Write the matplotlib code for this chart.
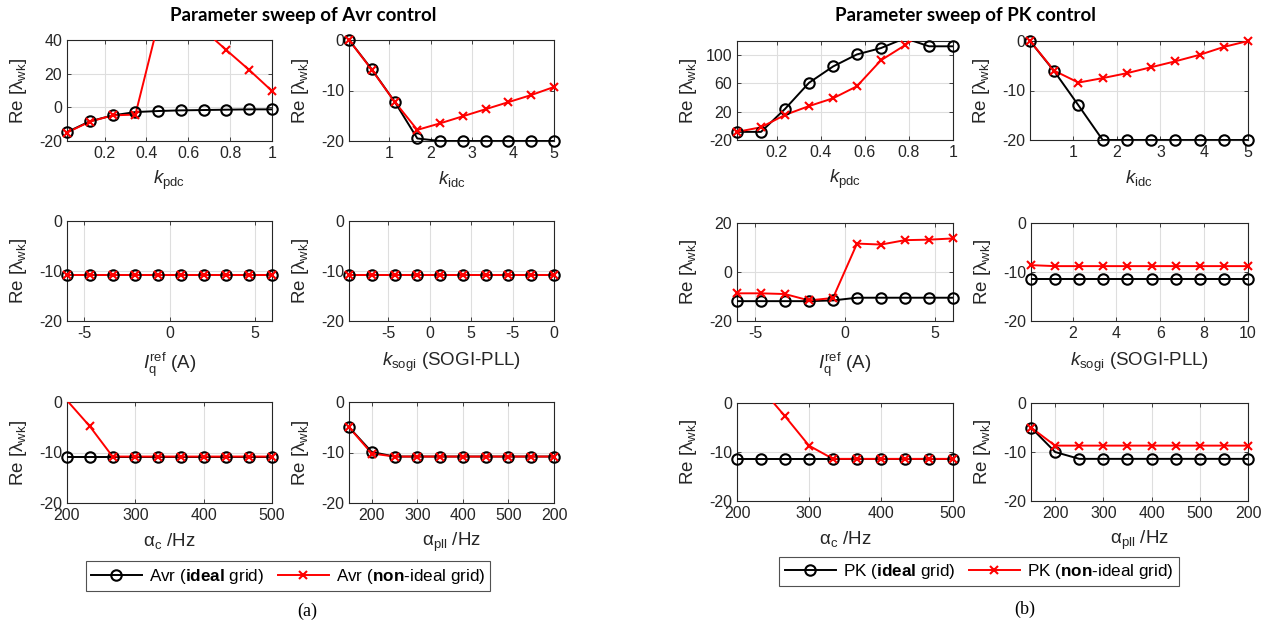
import numpy as np
import matplotlib
matplotlib.use("Agg")
import matplotlib.pyplot as plt
from matplotlib.lines import Line2D

plt.rcParams['font.family'] = ['Liberation Sans', 'DejaVu Sans']
plt.rcParams['mathtext.fontset'] = 'custom'
plt.rcParams['mathtext.rm'] = 'Liberation Sans'
plt.rcParams['mathtext.it'] = 'Liberation Sans:italic'
plt.rcParams['mathtext.bf'] = 'Liberation Sans:bold'
plt.rcParams['axes.unicode_minus'] = False

# ---------------- data ----------------
x_kpdc = [0.02, 0.129, 0.238, 0.347, 0.456, 0.564, 0.673, 0.782, 0.891, 1.0]
x_kidc = [0.02, 0.573, 1.127, 1.68, 2.233, 2.787, 3.34, 3.893, 4.447, 5.0]
x_iq = [-6.0, -4.667, -3.333, -2.0, -0.667, 0.667, 2.0, 3.333, 4.667, 6.0]
x_ksogi = [0.1, 1.2, 2.3, 3.4, 4.5, 5.6, 6.7, 7.8, 8.9, 10.0]
x_ac = [200, 233.3, 266.7, 300, 333.3, 366.7, 400, 433.3, 466.7, 500]
x_apll = [150, 200, 250, 300, 350, 400, 450, 500, 550, 600]

avr_kpdc_ideal = [-14.7, -8.3, -4.8, -2.8, -2.2, -1.8, -1.6, -1.4, -1.2, -1.2]
avr_kpdc_non = [-15.0, -8.5, -4.8, -4.3, 50.0, 62.0, 46.0, 34.0, 22.2, 9.7]
avr_kidc_ideal = [0.0, -5.8, -12.2, -19.5, -20.0, -20.0, -20.0, -20.0, -20.0, -20.0]
avr_kidc_non = [0.0, -5.9, -12.2, -17.8, -16.5, -15.1, -13.7, -12.3, -10.9, -9.3]
avr_iq_ideal = [-10.8, -10.8, -10.8, -10.8, -10.8, -10.8, -10.8, -10.8, -10.8, -10.8]
avr_iq_non = [-10.8, -10.8, -10.8, -10.8, -10.8, -10.8, -10.8, -10.8, -10.8, -10.8]
avr_ksogi_ideal = [-10.8, -10.8, -10.8, -10.8, -10.8, -10.8, -10.8, -10.8, -10.8, -10.8]
avr_ksogi_non = [-10.8, -10.8, -10.8, -10.8, -10.8, -10.8, -10.8, -10.8, -10.8, -10.8]
avr_ac_ideal = [-10.8, -10.8, -10.8, -10.8, -10.8, -10.8, -10.8, -10.8, -10.8, -10.8]
avr_ac_non = [0.3, -4.8, -10.8, -10.8, -10.8, -10.8, -10.8, -10.8, -10.8, -10.8]
avr_apll_ideal = [-5.0, -9.9, -10.8, -10.8, -10.8, -10.8, -10.8, -10.8, -10.8, -10.8]
avr_apll_non = [-5.0, -10.2, -10.8, -10.8, -10.8, -10.8, -10.8, -10.8, -10.8, -10.8]

pk_kpdc_ideal = [-8.5, -8.5, 24.0, 61.0, 84.0, 101.0, 110.0, 124.0, 112.5, 112.5]
pk_kpdc_non = [-8.5, -2.0, 15.5, 28.0, 39.0, 56.0, 92.7, 114.0, 138.0, 150.0]
pk_kidc_ideal = [0.0, -6.1, -13.0, -20.0, -20.0, -20.0, -20.0, -20.0, -20.0, -20.0]
pk_kidc_non = [0.0, -6.0, -8.4, -7.5, -6.5, -5.3, -4.1, -2.8, -1.2, 0.0]
pk_iq_ideal = [-11.9, -11.9, -11.9, -11.9, -11.6, -10.5, -10.5, -10.5, -10.5, -10.5]
pk_iq_non = [-8.7, -8.7, -9.0, -11.6, -10.6, 11.6, 11.2, 13.0, 13.2, 13.7]
pk_ksogi_ideal = [-11.4, -11.4, -11.4, -11.4, -11.4, -11.4, -11.4, -11.4, -11.4, -11.4]
pk_ksogi_non = [-8.6, -8.8, -8.8, -8.8, -8.8, -8.8, -8.8, -8.8, -8.8, -8.8]
pk_ac_ideal = [-11.4, -11.4, -11.4, -11.4, -11.4, -11.4, -11.4, -11.4, -11.4, -11.4]
pk_ac_non = [10.0, 3.0, -2.7, -8.7, -11.4, -11.4, -11.4, -11.4, -11.4, -11.4]
pk_apll_ideal = [-5.0, -10.0, -11.4, -11.4, -11.4, -11.4, -11.4, -11.4, -11.4, -11.4]
pk_apll_non = [-5.0, -8.7, -8.7, -8.7, -8.7, -8.7, -8.7, -8.7, -8.7, -8.7]

# tick definitions
kpdc_ticks = [0.2, 0.4, 0.6, 0.8, 1.0]
kpdc_labels = ['0.2', '0.4', '0.6', '0.8', '1']
kidc_ticks = [1, 2, 3, 4, 5]
iq_ticks = [-5, 0, 5]
ksogi_ticks = [2, 4, 6, 8, 10]
ksogi_labels_avr = ['-5', '0', '5', '-5', '0']
ksogi_labels_pk = ['2', '4', '6', '8', '10']
ac_ticks = [200, 300, 400, 500]
apll_ticks = [200, 300, 400, 500, 600]
apll_labels = ['200', '300', '400', '500', '200']

# ---------------- figure ----------------
W, H = 1268, 624
fig = plt.figure(figsize=(W / 100, H / 100), dpi=100)
TXT = '#262626'
YLAB = r'Re [$\mathrm{\lambda}_{\mathrm{wk}}$]'


def add_ax(x0, x1, y0, y1):
    return fig.add_axes([x0 / W, 1 - y1 / H, (x1 - x0) / W, (y1 - y0) / H])


def draw(ax, x, y_ideal, y_non, xlim, ylim, xticks, xlabels, yticks, xlabel, xlab_off):
    x = np.asarray(x, float)
    for y, c, m, ms, mfc in [(y_ideal, 'k', 'o', 7.5, 'none'), (y_non, 'r', 'x', 5.5, 'r')]:
        y = np.asarray(y, float)
        ax.plot(x, y, color=c, lw=1.4, zorder=3)
        inside = (y >= ylim[0] - 1e-9) & (y <= ylim[1] + 1e-9)
        ax.plot(x[inside], y[inside], ls='none', marker=m, ms=ms, mew=1.5,
                mec=c, mfc=mfc, clip_on=False, zorder=4)
    ax.set_xlim(xlim)
    ax.set_ylim(ylim)
    ax.set_xticks(xticks)
    ax.set_xticklabels(xlabels)
    ax.set_yticks(yticks)
    ax.grid(True, color='#dedede', lw=0.8)
    ax.set_axisbelow(True)
    ax.tick_params(direction='in', length=3, width=0.6, top=True, right=True,
                   labelsize=11.5, colors=TXT, pad=3.5)
    for s in ax.spines.values():
        s.set_color('#262626')
        s.set_linewidth(0.8)
    ax.set_xlabel(xlabel, fontsize=13.5, color=TXT)
    ax.set_ylabel(YLAB, fontsize=13.5, color=TXT)
    h = ax.get_position().height * H
    w = ax.get_position().width * W
    ax.xaxis.set_label_coords(0.5, -xlab_off / h)
    ax.yaxis.set_label_coords(-38 / w, 0.5)


lab_kpdc = r'$k_{\mathrm{pdc}}$'
lab_kidc = r'$k_{\mathrm{idc}}$'
lab_iq = r'$I_{\mathrm{q}}^{\mathrm{ref}}$ (A)'
lab_ksogi = r'$k_{\mathrm{sogi}}$ (SOGI-PLL)'
lab_ac = r'$\mathrm{\alpha}_{\mathrm{c}}$ /Hz'
lab_apll = r'$\mathrm{\alpha}_{\mathrm{pll}}$ /Hz'

# (a) Avr
ax = add_ax(67, 272, 40, 141)
draw(ax, x_kpdc, avr_kpdc_ideal, avr_kpdc_non, (0.02, 1), (-20, 40), kpdc_ticks, kpdc_labels,
     [-20, 0, 20, 40], lab_kpdc, 28)
ax = add_ax(349, 554, 40, 141)
draw(ax, x_kidc, avr_kidc_ideal, avr_kidc_non, (0.02, 5), (-20, 0), kidc_ticks,
     [str(t) for t in kidc_ticks], [-20, -10, 0], lab_kidc, 28)
ax = add_ax(67, 272, 221, 321)
draw(ax, x_iq, avr_iq_ideal, avr_iq_non, (-6, 6), (-20, 0), iq_ticks,
     [str(t) for t in iq_ticks], [-20, -10, 0], lab_iq, 30)
ax = add_ax(349, 554, 221, 321)
draw(ax, x_ksogi, avr_ksogi_ideal, avr_ksogi_non, (0.1, 10), (-20, 0), ksogi_ticks,
     ksogi_labels_avr, [-20, -10, 0], lab_ksogi, 30)
ax = add_ax(67, 272, 402, 503)
draw(ax, x_ac, avr_ac_ideal, avr_ac_non, (200, 500), (-20, 0), ac_ticks,
     [str(t) for t in ac_ticks], [-20, -10, 0], lab_ac, 28)
ax = add_ax(349, 554, 402, 503)
draw(ax, x_apll, avr_apll_ideal, avr_apll_non, (150, 600), (-20, 0), apll_ticks,
     apll_labels, [-20, -10, 0], lab_apll, 28)

# (b) PK
ax = add_ax(737, 953, 41, 140)
draw(ax, x_kpdc, pk_kpdc_ideal, pk_kpdc_non, (0.02, 1), (-20, 120), kpdc_ticks, kpdc_labels,
     [-20, 20, 60, 100], lab_kpdc, 28)
ax = add_ax(1030, 1248, 41, 140)
draw(ax, x_kidc, pk_kidc_ideal, pk_kidc_non, (0.02, 5), (-20, 0), kidc_ticks,
     [str(t) for t in kidc_ticks], [-20, -10, 0], lab_kidc, 28)
ax = add_ax(737, 953, 223, 321)
draw(ax, x_iq, pk_iq_ideal, pk_iq_non, (-6, 6), (-20, 20), iq_ticks,
     [str(t) for t in iq_ticks], [-20, 0, 20], lab_iq, 30)
ax = add_ax(1031, 1248, 223, 321)
draw(ax, x_ksogi, pk_ksogi_ideal, pk_ksogi_non, (0.1, 10), (-20, 0), ksogi_ticks,
     ksogi_labels_pk, [-20, -10, 0], lab_ksogi, 30)
ax = add_ax(737, 953, 403, 501)
draw(ax, x_ac, pk_ac_ideal, pk_ac_non, (200, 500), (-20, 0), ac_ticks,
     [str(t) for t in ac_ticks], [-20, -10, 0], lab_ac, 28)
ax = add_ax(1031, 1248, 403, 501)
draw(ax, x_apll, pk_apll_ideal, pk_apll_non, (150, 600), (-20, 0), apll_ticks,
     apll_labels, [-20, -10, 0], lab_apll, 28)

# titles
fig.text(303 / W, 1 - 15 / H, 'Parameter sweep of Avr control', family='Lato',
         fontweight='bold', fontsize=13.5, ha='center', va='center', color='black')
fig.text(965 / W, 1 - 15 / H, 'Parameter sweep of PK control', family='Lato',
         fontweight='bold', fontsize=13.5, ha='center', va='center', color='black')


def legend(name, cx, cy):
    h1 = Line2D([], [], color='k', lw=1.4, marker='o', ms=7.5, mfc='none', mew=1.5)
    h2 = Line2D([], [], color='r', lw=1.4, marker='x', ms=5.5, mew=1.5)
    lg = fig.legend([h1, h2],
                    [name + r' ($\mathbf{ideal}$ grid)', name + r' ($\mathbf{non}$-ideal grid)'],
                    loc='center', bbox_to_anchor=(cx / W, 1 - cy / H), ncol=2,
                    fontsize=12.3, handlelength=3.0, handletextpad=0.4, columnspacing=0.8,
                    frameon=True, fancybox=False, borderpad=0.3, borderaxespad=0)
    fr = lg.get_frame()
    fr.set_edgecolor('#262626')
    fr.set_linewidth(0.8)
    for t in lg.get_texts():
        t.set_color('black')


legend('Avr', 288, 576)
legend('PK', 979, 571.5)

fig.text(307 / W, 1 - 611 / H, '(a)', family='Liberation Serif', fontsize=13,
         ha='center', va='center')
fig.text(1025 / W, 1 - 609 / H, '(b)', family='Liberation Serif', fontsize=13,
         ha='center', va='center')

fig.savefig('out.png', dpi=100)
